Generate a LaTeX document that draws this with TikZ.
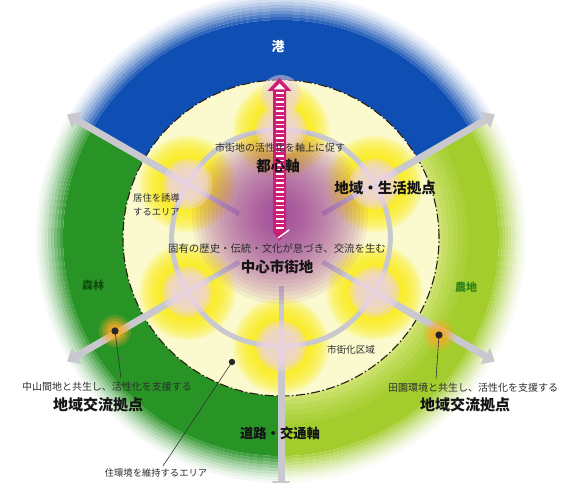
\documentclass[tikz,border=0pt]{standalone}
\usepackage{fontspec}
\newfontfamily\jp{Noto Sans CJK JP}
\usetikzlibrary{arrows.meta}
\definecolor{ringblue}{RGB}{15,78,178}
\definecolor{forestg}{RGB}{40,148,38}
\definecolor{limeg}{RGB}{162,205,44}
\definecolor{lightlime}{RGB}{236,242,160}
\definecolor{innerfill}{RGB}{250,250,206}
\definecolor{yel}{RGB}{250,236,10}
\definecolor{pinkc}{RGB}{238,212,224}
\definecolor{purp}{RGB}{145,38,145}
\definecolor{magc}{RGB}{205,30,118}
\definecolor{netgray}{RGB}{200,200,206}
\definecolor{txtc}{RGB}{45,45,45}
\definecolor{boldc}{RGB}{20,20,20}
\definecolor{orangec}{RGB}{248,170,40}
\definecolor{dashc}{RGB}{40,30,20}
\definecolor{leafdark}{RGB}{15,80,15}
\definecolor{leaflime}{RGB}{45,130,30}
\begin{document}
\begin{tikzpicture}[x=1pt,y=1pt,
  netline/.style={draw=netgray, line width=5pt},
  grayarrow/.style={draw=netgray, line width=7pt, -{Triangle[width=18pt,length=11pt]}},
  leader/.style={draw=black!80, line width=0.6pt},
  small/.style={font=\jp\fontsize{10}{12}\selectfont, text=txtc, inner sep=0pt},
  tiny/.style={font=\jp\fontsize{9.3}{14}\selectfont, text=txtc, inner sep=0pt},
  big/.style={font=\jp\bfseries\fontsize{14.5}{16}\selectfont, text=boldc, inner sep=0pt},
  dashcircle/.style={draw=dashc, line width=1.1pt, dash pattern=on 9pt off 2.5pt on 1.5pt off 2.5pt}]
\useasboundingbox (0,0) rectangle (562,482);
\fill[white] (0,0) rectangle (562,482);
\begin{scope}[shift={(281,244)}]
\coordinate (O) at (0,0);
\foreach \i/\a in {0/-90,1/-30,2/30,3/90,4/150,5/210}{
  \coordinate (A\i) at (\a:108);
  \coordinate (S\i) at (\a:48);
}
% outer ring
\foreach \col/\a/\b in {ringblue/30/150, forestg/150/270, limeg/270/390}{
  \fill[\col] (\a:157) arc[start angle=\a, end angle=\b, radius=157] -- (\b:218) arc[start angle=\b, end angle=\a, radius=218] -- cycle;
  \foreach \r/\op in {218/0.85,221/0.72,224/0.6,227/0.48,230/0.37,233/0.27,236/0.18,239/0.1,242/0.05}{
    \pgfmathsetmacro{\rr}{\r+3}
    \fill[\col, fill opacity=\op] (\a:\r) arc[start angle=\a, end angle=\b, radius=\r] -- (\b:\rr) arc[start angle=\b, end angle=\a, radius=\rr] -- cycle;
  }
}
% lime halo
\foreach \r/\op in {157/0.6,162/0.48,167/0.37,172/0.27,177/0.18,182/0.1}{
  \pgfmathsetmacro{\rr}{\r+5}
  \fill[lightlime, fill opacity=\op] (270:\r) arc[start angle=270, end angle=390, radius=\r] -- (30:\rr) arc[start angle=390, end angle=270, radius=\rr] -- cycle;
}
% inner circle
\fill[innerfill] (O) circle (158);
\draw[dashcircle] (O) circle (158);
% yellow glows
\foreach \i in {0,...,5}{
  \foreach \r in {48,45,42,39,36,33,30,27,24}{
    \fill[yel, fill opacity=0.2] (A\i) circle (\r);
  }
}
% network
\foreach \i/\j in {0/1,1/2,2/3,3/4,4/5,5/0}{
  \draw[netline] (A\i) to[bend right=30] (A\j);
}
\foreach \i in {0,1,2,4,5}{
  \draw[netline] (A\i) -- (S\i);
}
\coordinate (E0) at (-90:254);
\coordinate (E1) at (-30:247);
\coordinate (E2) at (30:247);
\coordinate (E4) at (150:247);
\coordinate (E5) at (210:247);
\foreach \i in {0,1,2,4,5}{
  \draw[grayarrow] (A\i) -- (E\i);
}
% purple centre
\coordinate (P) at (-1,22);
\foreach \r in {88,84,...,6}{
  \fill[purp, fill opacity=0.065] (P) circle (\r);
}
% pink nodes
\foreach \i in {0,...,5}{
  \fill[pinkc, fill opacity=0.45] (A\i) circle (25);
  \fill[pinkc, fill opacity=0.5] (A\i) circle (21);
  \fill[pinkc, fill opacity=0.5] (A\i) circle (16);
}
\coordinate (B) at (0,143);
\fill[pinkc, fill opacity=0.5] (B) circle (20);
\fill[pinkc, fill opacity=0.5] (B) circle (15);
% magenta axis arrow
\fill[magc] (-1.5,160) -- (10.5,147) -- (5,147) -- (5,6) -- (-1.5,-3) -- (-8,6) -- (-8,147) -- (-13.5,147) -- cycle;
\fill[white] (-1.5,154.5) -- (4.2,148.6) -- (-7.2,148.6) -- cycle;
\foreach \y in {10,14.5,...,145}{
  \draw[white, line width=1.5pt] (-5.5,\y) -- (2.5,\y);
}
\draw[white, line width=1.4pt] (-3,0) -- (8,8);
% points and leaders
\coordinate (D1) at (-166,-93);
\coordinate (D2) at (158,-97);
\coordinate (D3) at (-49,-124);
\coordinate (L1) at (-160,-140);
\coordinate (L2) at (155,-141);
\coordinate (L3) at (-118,-228);
\foreach \d in {D1,D2}{
  \foreach \r/\op in {16/0.22,13/0.3,10/0.4,7/0.5}{
    \fill[orangec, fill opacity=\op] (\d) circle (\r);
  }
}
\draw[leader] (D1) -- (L1);
\draw[leader] (D2) -- (L2);
\draw[leader] (D3) -- (L3);
\fill[black!85] (D1) circle (3.6);
\fill[black!85] (D2) circle (3.6);
\fill[black!85] (D3) circle (3.2);
% texts
\node[font=\jp\bfseries\fontsize{13}{14}\selectfont, text=white, inner sep=0pt] (t1) at (-3,191) {港};
\node[small] (t2) at (-1,90) {市街地の活性化を軸上に促す};
\node[big] (t3) at (-3,72) {都心軸};
\node[tiny, align=left, anchor=west] (t4) at (-148,33) {居住を誘導\\するエリア};
\node[big] (t5) at (104,50) {地域・生活拠点};
\node[small, font=\jp\fontsize{10.4}{12}\selectfont] (t6) at (-4,-11) {固有の歴史・伝統・文化が息づき、交流を生む};
\node[big] (t7) at (-4,-29) {中心市街地};
\node[font=\jp\bfseries\fontsize{11}{12}\selectfont, text=leafdark, inner sep=0pt] (t8) at (-188,-47) {森林};
\node[font=\jp\bfseries\fontsize{11}{12}\selectfont, text=leaflime, inner sep=0pt] (t9) at (185,-49) {農地};
\node[small] (t10) at (-174,-149) {中山間地と共生し、活性化を支援する};
\node[big, font=\jp\bfseries\fontsize{15}{16}\selectfont] (t11) at (-183,-167) {地域交流拠点};
\node[small] (t12) at (192,-150) {田園環境と共生し、活性化を支援する};
\node[big, font=\jp\bfseries\fontsize{15}{16}\selectfont] (t13) at (184,-167) {地域交流拠点};
\node[tiny, font=\jp\fontsize{9.6}{12}\selectfont] (t14) at (70,-112) {市街化区域};
\node[big, font=\jp\bfseries\fontsize{13.3}{15}\selectfont] (t15) at (-1,-195) {道路・交通軸};
\node[tiny] (t16) at (-125,-235) {住環境を維持するエリア};
\end{scope}
\end{tikzpicture}
\end{document}
